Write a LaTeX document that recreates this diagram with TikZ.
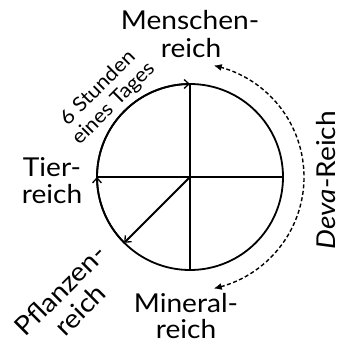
\documentclass[tikz,border=0pt]{standalone}
\usepackage{fontspec}
\setmainfont{Lato}[FakeStretch=1.08]
\usetikzlibrary{arrows.meta,bending,calc}
\begin{document}
\begin{tikzpicture}[x=1pt,y=1pt,
  big/.style={font=\fontsize{26}{28}\selectfont, inner sep=0pt},
  small/.style={font=\fontsize{20}{22}\selectfont, inner sep=0pt, align=center},
  ln/.style={line width=1.8pt},
  openarrow/.style={-{Straight Barb[length=5pt,width=9pt,line width=1.3pt]}},
  dasharc/.style={line width=1.4pt, dash pattern=on 4pt off 2.5pt,
    {Latex[length=8pt,width=7pt]}-{Latex[length=8pt,width=7pt]}}]
\useasboundingbox (0,0) rectangle (338,-344);
\coordinate (C) at (190,-177);
\coordinate (Top) at (190,-84);
\coordinate (Bot) at (190,-270);
\coordinate (Lft) at (97,-177);
\coordinate (Rgt) at (283,-177);
\coordinate (Dia) at ($(C)+(225:93pt)$);
\draw[ln] (C) circle[radius=93pt];
\draw[ln] (Top) -- (Bot);
\draw[ln] (Lft) -- (Rgt);
\draw[ln,openarrow] (C) -- (Dia);
\draw[ln,openarrow] (Dia) arc[start angle=225, end angle=180, radius=93pt];
\draw[ln,openarrow] (Lft) arc[start angle=180, end angle=90, radius=93pt];
\coordinate (DS) at ($(C)+(-78:114pt)$);
\draw[dasharc] (DS) arc[start angle=-78, end angle=78, radius=114pt];
% labels
\node[big, anchor=base] (m1) at (190,-30) {Menschen-};
\node[big, anchor=base] (m2) at (191,-58) {reich};
\node[big, anchor=base] (t1) at (52,-177) {Tier-};
\node[big, anchor=base] (t2) at (52,-203) {reich};
\node[big, anchor=base] (n1) at (186,-312) {Mineral-};
\node[big, anchor=base] (n2) at (186,-338) {reich};
\node[big, rotate=90, anchor=base] (dv) at (335,-180) {\textit{Deva}-Reich};
\node[small, rotate=45] (st) at (106,-96) {6 Stunden\\eines Tages};
\node[big, rotate=45, align=center] (pf) at (70,-300) {Pflanzen-\\reich};
\end{tikzpicture}
\end{document}
